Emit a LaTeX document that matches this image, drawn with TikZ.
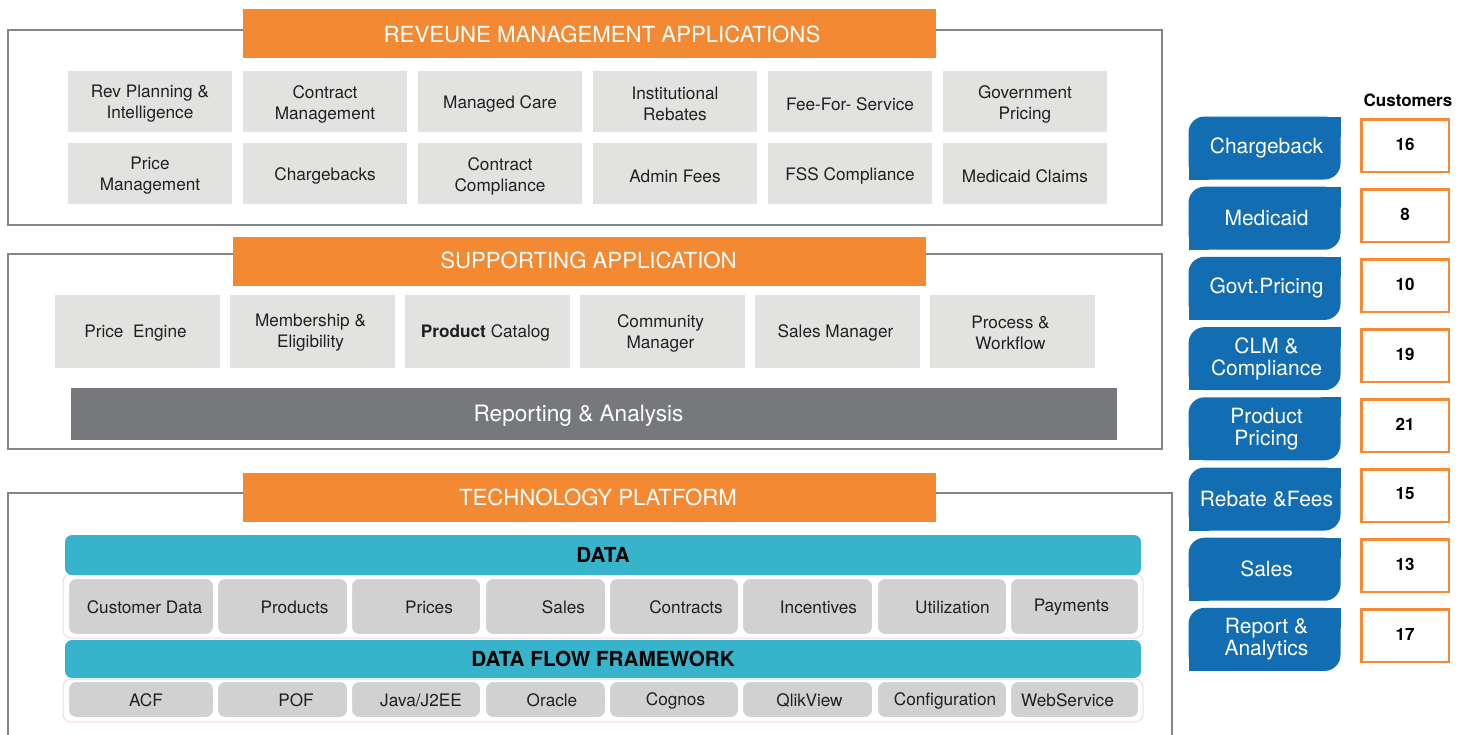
\documentclass[tikz,border=0pt]{standalone}
\usepackage{fontspec}
\setmainfont{TeX Gyre Heros}
\definecolor{hdrorange}{HTML}{F38A33}
\definecolor{framegray}{HTML}{838588}
\definecolor{boxgray}{HTML}{E2E3E1}
\definecolor{bargray}{HTML}{76787B}
\definecolor{datateal}{HTML}{37B3CB}
\definecolor{cellgray}{HTML}{D0D1D0}
\definecolor{tabblue}{HTML}{136DB3}
\definecolor{numorange}{HTML}{F58A35}
\definecolor{inkdark}{HTML}{231F20}
\definecolor{rimpink}{HTML}{F3DADA}
\begin{document}
\begin{tikzpicture}[x=1pt,y=-1pt,
  frame/.style={draw=framegray, line width=2.5pt},
  header/.style={fill=hdrorange, inner sep=0pt, outer sep=0pt, minimum width=693, minimum height=49},
  headtext/.style={text=white, inner sep=0pt, font=\fontsize{22.2}{24}\selectfont},
  appbox/.style={fill=boxgray, inner sep=0pt, outer sep=0pt, minimum width=164, minimum height=61},
  suppbox/.style={appbox, minimum width=165, minimum height=73},
  apptext/.style={text=inkdark, align=center, inner sep=0pt, font=\fontsize{17.2}{21}\selectfont},
  reportbar/.style={fill=bargray, inner sep=0pt, minimum width=1046, minimum height=52},
  reptext/.style={text=white, inner sep=0pt, font=\fontsize{22.6}{24}\selectfont},
  tealbar/.style={fill=datateal, rounded corners=7pt, inner sep=0pt, minimum width=1076,
    text=black, font=\bfseries\fontsize{20.7}{22}\selectfont},
  rim/.style={draw=rimpink, fill=white, line width=1pt, rounded corners=8pt, inner sep=0pt, minimum width=1080},
  cell/.style={fill=cellgray, draw=white, line width=2pt, rounded corners=8pt, inner sep=0pt},
  celltext/.style={text=inkdark, inner sep=0pt, font=\fontsize{17.2}{20}\selectfont},
  tab/.style={fill=tabblue, rounded corners=16pt, inner sep=0pt, outer sep=0pt, minimum width=152, minimum height=63},
  tabtext/.style={text=white, align=center, inner sep=0pt, font=\fontsize{21}{22}\selectfont},
  numbox/.style={draw=numorange, line width=2.5pt, fill=white, minimum width=87.5, minimum height=52.5,
    inner sep=0pt},
  numtext/.style={inner sep=0pt, font=\bfseries\fontsize{17}{20}\selectfont}
]
\useasboundingbox (0,0) rectangle (1469,734);
\clip (0,0) rectangle (1469,734);

% panel frames
\draw[frame] (8,30) rectangle (1162,225);
\draw[frame] (8,254) rectangle (1162,449);
\draw[frame] (8,745) -- (8,493) -- (1172,493) -- (1172,745);

% revenue management applications
\node[header] (h1) at (589.5,33.5) {};
\node[headtext] (h1t) at (602,34) {REVEUNE MANAGEMENT APPLICATIONS};
\foreach \t [count=\i from 0] in {{Rev Planning \&\\Intelligence},{Contract\\Management},{Managed Care},
    {Institutional\\Rebates},{Fee-For- Service},{Government\\Pricing}}
{
  \node[appbox] (ra\i) at ({150+175*\i},101.5) {};
  \node[apptext] (rat\i) at ([yshift=-2.5pt]ra\i.center) {\t};
}
\foreach \t [count=\i from 0] in {{Price\\Management},{Chargebacks},{Contract\\Compliance},
    {Admin Fees},{FSS Compliance},{Medicaid Claims}}
{
  \node[appbox] (rb\i) at ({150+175*\i},173.5) {};
  \node[apptext] (rbt\i) at ([yshift=-2.5pt]rb\i.center) {\t};
}

% supporting application
\node[header] (h2) at (579.5,261) {};
\node[headtext] (h2t) at (588.5,260) {SUPPORTING APPLICATION};
\foreach \t [count=\i from 0] in {{Price\ \ Engine},{Membership \&\\Eligibility},{\textbf{Product} Catalog},
    {Community\\Manager},{Sales Manager},{Process \&\\Workflow}}
{
  \node[suppbox] (sa\i) at ({137.5+175*\i},331.5) {};
  \node[apptext] (sat\i) at ([xshift=-2pt,yshift=-1.5pt]sa\i.center) {\t};
}
\node[reportbar] (rep) at (594,414) {};
\node[reptext] (rept) at (578.5,416) {Reporting \& Analysis};

% technology platform
\node[header] (h3) at (589.5,497.5) {};
\node[headtext] (h3t) at (598,497) {TECHNOLOGY PLATFORM};

\node[rim, minimum height=64] (drim) at (603,606) {};
\node[tealbar, minimum height=40] (dbar) at (603,555) {DATA};
\foreach \l/\r/\tx/\t [count=\i from 0] in {68/214/144.5/Customer Data, 217/348/294.5/Products,
    351/481/429/Prices, 485/606/563.5/Sales, 609/739/686/Contracts, 742/873/818.5/Incentives,
    877/1007/952.5/Utilization, 1010/1139/1071.5/Payments}
{
  \node[cell, minimum width={\r-\l}, minimum height=57] (dc\i) at ({(\l+\r)/2},606.5) {};
  \node[celltext] (dt\i) at (\tx,607.5) {\t};
}

\node[rim, minimum height=43] (frim) at (603,700.5) {};
\node[tealbar, minimum height=38] (fbar) at (603,659) {DATA FLOW FRAMEWORK};
\foreach \l/\r/\tx/\t [count=\i from 0] in {68/214/146/ACF, 217/348/296/POF,
    351/481/421/{Java/J2EE}, 485/606/552/Oracle, 609/739/675.5/Cognos, 742/873/809.5/QlikView,
    877/1007/945/Configuration, 1010/1139/1067.5/WebService}
{
  \node[cell, minimum width={\r-\l}, minimum height=37] (fc\i) at ({(\l+\r)/2},699.5) {};
  \node[celltext] (ft\i) at (\tx,700.5) {\t};
}

% product lines and customer counts
\node[inner sep=0pt, font=\bfseries\fontsize{17}{18}\selectfont] (cust) at (1408,100) {Customers};
\foreach \lab/\num [count=\i from 0] in {Chargeback/16, Medicaid/8, Govt.Pricing/10,
    {CLM \&\\Compliance}/19, {Product\\Pricing}/21, {Rebate \&Fees}/15, Sales/13, {Report \&\\Analytics}/17}
{
  \node[tab] (tab\i) at (1264.5,{148+70.2*\i}) {};
  \fill[tabblue] (tab\i.north east) rectangle ++(-20,20);
  \fill[tabblue] (tab\i.south west) rectangle ++(20,-20);
  \node[tabtext] (tabl\i) at ([xshift=2pt]tab\i.center) {\lab};
  \node[numbox] (num\i) at (1405,{145.5+70*\i}) {};
  \node[numtext] (numt\i) at ([yshift=1.5pt]num\i.center) {\num};
}
\end{tikzpicture}
\end{document}
